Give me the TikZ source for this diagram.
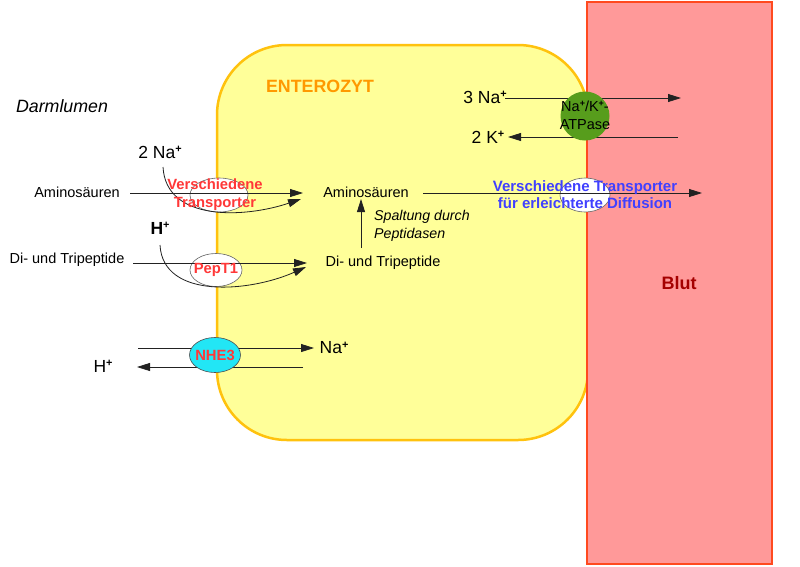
\documentclass[tikz,border=0pt]{standalone}
\usepackage{fontspec}
\usepackage{graphicx}
\setmainfont{Liberation Sans}
\usetikzlibrary{arrows.meta,shapes.geometric}
\definecolor{cellfill}{HTML}{FFFF99}
\definecolor{cellline}{HTML}{FFC20E}
\definecolor{bloodfill}{HTML}{FF9999}
\definecolor{bloodline}{HTML}{FF4A1F}
\definecolor{atpgreen}{HTML}{579D1C}
\definecolor{nhecyan}{HTML}{22E6F5}
\definecolor{redtxt}{HTML}{FF3838}
\definecolor{bluetxt}{HTML}{4040FF}
\definecolor{orangetxt}{HTML}{FF9900}
\definecolor{blutred}{HTML}{A50000}
\definecolor{lineclr}{HTML}{222222}
\newcommand{\ionplus}{\raisebox{0.33em}{\scalebox{0.62}{\bfseries +}}}
\begin{document}
\begin{tikzpicture}[x=1pt,y=-1pt,
  txt/.style={inner sep=0pt,font=\fontsize{14.5}{17}\selectfont},
  big/.style={inner sep=0pt,font=\fontsize{17.5}{20}\selectfont},
  arr/.style={draw=lineclr,line width=0.8pt,-{Triangle[length=13pt,width=8pt]}},
  transp/.style={ellipse,draw=lineclr!70,line width=0.6pt,fill=white,inner sep=0pt},
  redlbl/.style={inner sep=0pt,text=redtxt,align=center,font=\bfseries\fontsize{14.8}{18}\selectfont},
]
\useasboundingbox (0,0) rectangle (800,566);
\fill[white] (0,0) rectangle (800,566);
% cell and blood
\draw[cellline,fill=cellfill,line width=2.5pt,rounded corners=70pt] (217,45) rectangle (588,440);
\draw[bloodline,fill=bloodfill,line width=2pt] (587,2) rectangle (772,564);

% labels
\node[inner sep=0pt,font=\itshape\fontsize{17.8}{20}\selectfont] (darm) at (62,106) {Darmlumen};
\node[inner sep=0pt,text=orangetxt,font=\bfseries\fontsize{17.8}{20}\selectfont] (entero) at (320,86) {ENTEROZYT};
\node[inner sep=0pt,text=blutred,font=\bfseries\fontsize{18}{20}\selectfont] (blut) at (679,283) {Blut};

% transporter ellipses (under lines)
\node[transp,minimum width=58pt,minimum height=34pt] (vt) at (219,195) {};
\node[transp,minimum width=52pt,minimum height=33pt] (pept) at (216,270) {};
\node[transp,minimum width=50pt,minimum height=34pt] (ft) at (585,195) {};

% amino acids
\node[txt] (amL) at (77,192) {Aminosäuren};
\node[txt] (amC) at (366,192) {Aminosäuren};
\node[big] (na2) at (160,152) {2 Na\ionplus};
\coordinate (amS) at (130,193);
\coordinate (amT) at (303,193);
\draw[arr] (amS) -- (amT);
\coordinate (naS) at (163,167);
\coordinate (naT) at (301,199);
\draw[arr] (naS) .. controls (166,222) and (245,218) .. (naT);

% peptides
\node[txt] (pepL) at (67,260) {Di- und Tripeptide};
\node[txt] (pepC) at (383,263) {Di- und Tripeptide};
\node[inner sep=0pt,font=\bfseries\fontsize{17.5}{20}\selectfont] (hb) at (160,228) {H\ionplus};
\coordinate (pS) at (133,263);
\coordinate (pT) at (307,263);
\draw[arr] (pS) -- (pT);
\coordinate (hS) at (160,245);
\coordinate (hT) at (306,267);
\draw[arr] (hS) .. controls (163,300) and (250,292) .. (hT);

% peptidase
\coordinate (spS) at (361,248);
\coordinate (spT) at (361,199);
\draw[arr] (spS) -- (spT);
\node[inner sep=0pt,align=left,anchor=west,font=\itshape\fontsize{14.2}{18}\selectfont] (spalt) at (374,226) {Spaltung durch\\Peptidasen};

% facilitated diffusion
\coordinate (fS) at (423,193);
\coordinate (fT) at (702,193);
\draw[arr] (fS) -- (fT);

% labels on transporters
\node[redlbl] (vtl) at (215,195) {Verschiedene\\Transporter};
\node[redlbl] (peptl) at (216,270) {PepT1};
\node[inner sep=0pt,text=bluetxt,align=center,font=\bfseries\fontsize{15}{17}\selectfont] (ftl) at (585,195) {Verschiedene Transporter\\für erleichterte Diffusion};

% Na/K ATPase
\node[big] (na3) at (485,97) {3 Na\ionplus};
\node[big] (k2) at (488,137) {2 K\ionplus};
\coordinate (n3S) at (505,98);
\coordinate (n3T) at (681,98);
\draw[arr] (n3S) -- (n3T);
\coordinate (k2S) at (678,137);
\coordinate (k2T) at (508,137);
\draw[arr] (k2S) -- (k2T);
\node[circle,fill=atpgreen,minimum size=49pt,inner sep=0pt] (atp) at (585,116) {};
\node[inner sep=0pt,align=center,font=\fontsize{14.5}{18}\selectfont] (atpl) at (585,115) {Na\ionplus/K\ionplus-\\ATPase};

% NHE3
\node[big] (naR) at (334,348) {Na\ionplus};
\node[big] (hL) at (103,366) {H\ionplus};
\coordinate (nhS) at (138,348);
\coordinate (nhT) at (314,348);
\draw[arr] (nhS) -- (nhT);
\coordinate (hhS) at (303,367);
\coordinate (hhT) at (137,367);
\draw[arr] (hhS) -- (hhT);
\node[ellipse,draw=lineclr!80,line width=0.6pt,fill=nhecyan,minimum width=51pt,minimum height=35pt,inner sep=0pt] (nhe) at (215,355) {};
\node[redlbl] (nhel) at (215,355) {NHE3};
\end{tikzpicture}
\end{document}
